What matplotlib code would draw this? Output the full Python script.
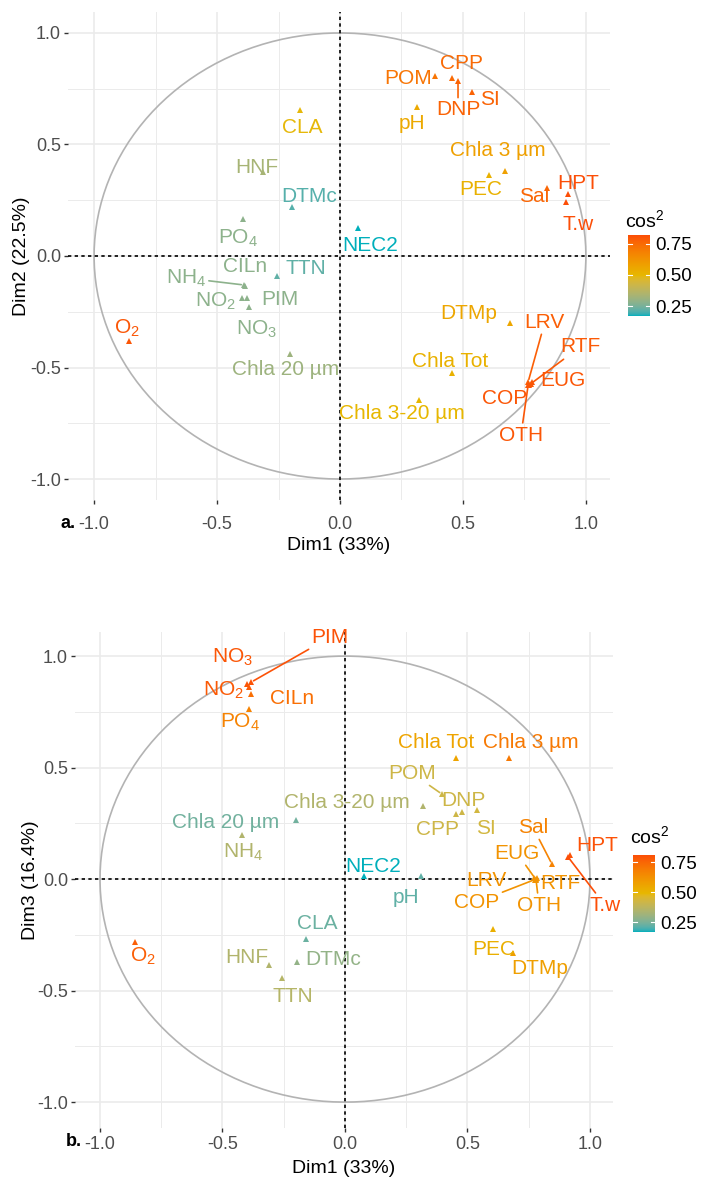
import numpy as np
import matplotlib
matplotlib.use('Agg')
import matplotlib.pyplot as plt
from matplotlib.colors import ListedColormap, Normalize

plt.rcParams['font.family'] = ['Liberation Sans', 'DejaVu Sans']
plt.rcParams['mathtext.fontset'] = 'custom'
plt.rcParams['mathtext.rm'] = 'Liberation Sans'
plt.rcParams['mathtext.default'] = 'regular'

# ---- panel a: Dim1 vs Dim2 ----
vars_a = ['CLA', 'HNF', 'DTMc', 'PO$_4$', 'NEC2', 'NH$_4$', 'CILn', 'TTN', 'NO$_2$',
          'NO$_3$', 'PIM', 'O$_2$', 'Chla 20 µm', 'Chla 3-20 µm', 'Chla Tot', 'DTMp',
          'LRV', 'RTF', 'EUG', 'COP', 'OTH', 'POM', 'CPP', 'DNP', 'SI', 'pH',
          'Chla 3 µm', 'PEC', 'Sal', 'HPT', 'T.w']
dim1_a = [-0.163, -0.313, -0.195, -0.394, 0.074, -0.390, -0.386, -0.256, -0.398,
          -0.378, -0.370, -0.858, -0.203, 0.321, 0.455, 0.691,
          0.765, 0.777, 0.780, 0.770, 0.765, 0.386, 0.455, 0.480, 0.537, 0.313,
          0.671, 0.606, 0.841, 0.927, 0.918]
dim2_a = [0.655, 0.377, 0.220, 0.166, 0.126, -0.130, -0.134, -0.090, -0.190,
          -0.190, -0.230, -0.381, -0.440, -0.646, -0.525, -0.300,
          -0.565, -0.572, -0.565, -0.580, -0.580, 0.807, 0.800, 0.785, 0.735, 0.668,
          0.381, 0.363, 0.305, 0.278, 0.242]
cos2_a = [0.49, 0.33, 0.21, 0.28, 0.17, 0.28, 0.28, 0.22, 0.28,
          0.28, 0.28, 0.80, 0.31, 0.50, 0.52, 0.56,
          0.78, 0.79, 0.80, 0.80, 0.80, 0.72, 0.75, 0.77, 0.77, 0.55,
          0.58, 0.52, 0.76, 0.82, 0.82]

# ---- panel b: Dim1 vs Dim3 ----
vars_b = ['PIM', 'NO$_3$', 'NO$_2$', 'CILn', 'PO$_4$', 'Chla Tot', 'Chla 3 µm', 'POM',
          'DNP', 'CPP', 'SI', 'Chla 3-20 µm', 'Chla 20 µm', 'NH$_4$', 'NEC2', 'pH',
          'Sal', 'HPT', 'T.w', 'EUG', 'LRV', 'RTF', 'COP', 'OTH', 'PEC', 'DTMp',
          'CLA', 'DTMc', 'HNF', 'TTN', 'O$_2$']
dim1_b = [-0.383, -0.400, -0.390, -0.384, -0.392, 0.453, 0.669, 0.396,
          0.478, 0.453, 0.539, 0.318, -0.200, -0.420, 0.078, 0.310,
          0.845, 0.918, 0.910, 0.778, 0.772, 0.784, 0.775, 0.780, 0.604, 0.686,
          -0.159, -0.196, -0.310, -0.257, -0.857]
dim3_b = [0.883, 0.875, 0.860, 0.828, 0.762, 0.543, 0.543, 0.381,
          0.300, 0.291, 0.309, 0.327, 0.265, 0.200, 0.013, 0.013,
          0.067, 0.108, 0.100, 0.000, 0.004, 0.004, -0.002, -0.004, -0.224, -0.332,
          -0.269, -0.372, -0.386, -0.444, -0.283]
cos2_b = [0.80, 0.79, 0.78, 0.73, 0.67, 0.56, 0.70, 0.42,
          0.42, 0.42, 0.43, 0.35, 0.24, 0.35, 0.17, 0.22,
          0.67, 0.80, 0.81, 0.62, 0.62, 0.62, 0.62, 0.62, 0.52, 0.58,
          0.23, 0.29, 0.35, 0.36, 0.77]

# label offsets (repel-like placement) and which labels get a segment
off_a = {'CLA': (0.009, -0.081), 'HNF': (-0.024, 0.018), 'DTMc': (0.069, 0.049),
         'PO$_4$': (-0.021, -0.085), 'NEC2': (0.048, -0.081), 'NH$_4$': (-0.236, 0.031),
         'CILn': (0.0, 0.085), 'TTN': (0.118, 0.036), 'NO$_2$': (-0.11, -0.012),
         'NO$_3$': (0.037, -0.137), 'PIM': (0.126, 0.033), 'O$_2$': (-0.008, 0.058),
         'Chla 20 µm': (-0.017, -0.071), 'Chla 3-20 µm': (-0.069, -0.058),
         'Chla Tot': (-0.008, 0.05), 'DTMp': (-0.167, 0.04), 'LRV': (0.068, 0.269),
         'RTF': (0.199, 0.164), 'EUG': (0.127, 0.005), 'COP': (-0.099, -0.057),
         'OTH': (-0.029, -0.223), 'POM': (-0.11, -0.013), 'CPP': (0.041, 0.061),
         'DNP': (0.0, -0.13), 'SI': (0.073, -0.035), 'pH': (-0.02, -0.076),
         'Chla 3 µm': (-0.029, 0.094), 'PEC': (-0.033, -0.067), 'Sal': (-0.052, -0.036),
         'HPT': (0.04, 0.045), 'T.w': (0.049, -0.099)}
seg_a = {'NH$_4$', 'LRV', 'RTF', 'OTH', 'DNP'}

off_b = {'PIM': (0.322, 0.202), 'NO$_3$': (-0.061, 0.121), 'NO$_2$': (-0.108, -0.012),
         'CILn': (0.168, -0.016), 'PO$_4$': (-0.037, -0.058), 'Chla Tot': (-0.082, 0.071),
         'Chla 3 µm': (0.09, 0.071), 'POM': (-0.123, 0.094), 'DNP': (0.004, 0.054),
         'CPP': (-0.077, -0.067), 'SI': (0.037, -0.08), 'Chla 3-20 µm': (-0.31, 0.018),
         'Chla 20 µm': (-0.286, -0.009), 'NH$_4$': (0.004, -0.079), 'NEC2': (0.036, 0.045),
         'pH': (-0.061, -0.094), 'Sal': (-0.078, 0.166), 'HPT': (0.111, 0.044),
         'T.w': (0.151, -0.217), 'EUG': (-0.076, 0.117), 'LRV': (-0.196, -0.008),
         'RTF': (0.094, -0.022), 'COP': (-0.236, -0.101), 'OTH': (0.012, -0.113),
         'PEC': (0.004, -0.09), 'DTMp': (0.11, -0.068), 'CLA': (0.045, 0.072),
         'DTMc': (0.147, 0.013), 'HNF': (-0.09, 0.036), 'TTN': (0.045, -0.081),
         'O$_2$': (0.033, -0.062)}
seg_b = {'PIM', 'POM', 'Sal', 'T.w', 'EUG', 'COP', 'OTH'}


# gradient interpolated in CIELAB like ggplot's gradientn
M_RGB2XYZ = np.array([[0.4124, 0.3576, 0.1805], [0.2126, 0.7152, 0.0722], [0.0193, 0.1192, 0.9505]])
WHITE = np.array([0.95047, 1.0, 1.08883])


def hex_to_lab(h):
    rgb = np.array([int(h[i:i + 2], 16) for i in (1, 3, 5)]) / 255.0
    lin = np.where(rgb <= 0.04045, rgb / 12.92, ((rgb + 0.055) / 1.055) ** 2.4)
    xyz = M_RGB2XYZ @ lin / WHITE
    f = np.where(xyz > 0.008856, np.cbrt(xyz), 7.787 * xyz + 16 / 116)
    return np.array([116 * f[1] - 16, 500 * (f[0] - f[1]), 200 * (f[1] - f[2])])


def lab_to_rgb(lab):
    fy = (lab[:, 0] + 16) / 116
    fx = fy + lab[:, 1] / 500
    fz = fy - lab[:, 2] / 200
    f = np.stack([fx, fy, fz], axis=1)
    xyz = np.where(f > 0.2069, f ** 3, (f - 16 / 116) / 7.787) * WHITE
    lin = np.clip(xyz @ np.linalg.inv(M_RGB2XYZ).T, 0, 1)
    rgb = np.where(lin <= 0.0031308, 12.92 * lin, 1.055 * lin ** (1 / 2.4) - 0.055)
    return np.clip(rgb, 0, 1)


stops = [hex_to_lab(c) for c in ['#00AFBB', '#E7B800', '#FC4E07']]
t = np.linspace(0, 1, 256)
labs = np.array([stops[0] + (stops[1] - stops[0]) * (u / 0.5) if u <= 0.5
                 else stops[1] + (stops[2] - stops[1]) * ((u - 0.5) / 0.5) for u in t])
cmap = ListedColormap(lab_to_rgb(labs))


def draw_panel(ax, names, xs, ys, c2, offs, segs, xlim, ylim, xlabel, ylabel,
               xpad, xlabpad, ylabpad):
    norm = Normalize(min(c2), max(c2))
    ax.set_xlim(*xlim)
    ax.set_ylim(*ylim)
    ax.set_xticks([-1, -0.5, 0, 0.5, 1])
    ax.set_yticks([-1, -0.5, 0, 0.5, 1])
    ax.set_xticklabels(['-1.0', '-0.5', '0.0', '0.5', '1.0'])
    ax.set_yticklabels(['-1.0', '-0.5', '0.0', '0.5', '1.0'])
    ax.set_xticks([-0.75, -0.25, 0.25, 0.75], minor=True)
    ax.set_yticks([-0.75, -0.25, 0.25, 0.75], minor=True)
    ax.set_axisbelow(True)
    ax.grid(which='major', color='#EBEBEB', lw=1.2)
    ax.grid(which='minor', color='#EBEBEB', lw=0.7)
    ax.tick_params(which='minor', length=0)
    ax.tick_params(which='major', length=3, width=1, color='#333333',
                   labelsize=13, labelcolor='#4D4D4D', pad=2)
    ax.tick_params(axis='x', which='major', pad=xpad)
    for s in ax.spines.values():
        s.set_visible(False)
    th = np.linspace(0, 2 * np.pi, 300)
    ax.plot(np.cos(th), np.sin(th), color='#B3B3B3', lw=1.2)
    ax.axhline(0, color='black', ls=(0, (2, 2)), lw=1.2)
    ax.axvline(0, color='black', ls=(0, (2, 2)), lw=1.2)
    for n, x, y, c in zip(names, xs, ys, c2):
        col = cmap(norm(c))
        ax.plot(x, y, '^', ms=5, color=col, mew=0)
        dx, dy = offs[n]
        if n in segs:
            ax.annotate(n, xy=(x, y), xytext=(x + dx, y + dy), ha='center', va='center',
                        color=col, fontsize=15,
                        arrowprops=dict(arrowstyle='-', color=col, lw=1.2, shrinkA=0, shrinkB=2))
        else:
            ax.text(x + dx, y + dy, n, ha='center', va='center', color=col, fontsize=15)
    ax.set_xlabel(xlabel, fontsize=14, labelpad=xlabpad)
    ax.set_ylabel(ylabel, fontsize=14, labelpad=ylabpad)
    return norm


def draw_cbar(fig, rect, norm, title_xy):
    cax = fig.add_axes(rect)
    vals = np.linspace(norm.vmin, norm.vmax, 200)[:, None]
    cax.imshow(vals, aspect='auto', cmap=cmap, origin='lower',
               extent=[0, 1, norm.vmin, norm.vmax], vmin=norm.vmin, vmax=norm.vmax)
    cax.set_xlim(0, 1)
    cax.set_ylim(norm.vmin, norm.vmax)
    for v in [0.25, 0.5, 0.75]:
        cax.plot([0, 0.2], [v, v], color='white', lw=0.8)
        cax.plot([0.8, 1], [v, v], color='white', lw=0.8)
    cax.set_xticks([])
    cax.yaxis.tick_right()
    cax.set_yticks([0.25, 0.5, 0.75])
    cax.set_yticklabels(['0.25', '0.50', '0.75'])
    cax.tick_params(length=0, labelsize=13.5, pad=4)
    for s in cax.spines.values():
        s.set_visible(False)
    fig.text(title_xy[0], title_xy[1], 'cos$^2$', fontsize=14, ha='left', va='center')


W, H = 708, 1181
fig = plt.figure(figsize=(W / 100, H / 100), dpi=100)

ax1 = fig.add_axes([68 / W, 1 - 500 / H, 542 / W, 488 / H])
norm_a = draw_panel(ax1, vars_a, dim1_a, dim2_a, cos2_a, off_a, seg_a,
                    (-1.106, 1.098), (-1.094, 1.094), 'Dim1 (33%)', 'Dim2 (22.5%)',
                    xpad=8.5, xlabpad=3, ylabpad=0)
draw_cbar(fig, [628 / W, 1 - 316 / H, 22 / W, 81 / H], norm_a, (625 / W, 1 - 220 / H))

ax2 = fig.add_axes([75 / W, 1 - 1128 / H, 538 / W, 496 / H])
norm_b = draw_panel(ax2, vars_b, dim1_b, dim3_b, cos2_b, off_b, seg_b,
                    (-1.102, 1.094), (-1.116, 1.108), 'Dim1 (33%)', 'Dim3 (16.4%)',
                    xpad=3, xlabpad=5, ylabpad=-1)
draw_cbar(fig, [633 / W, 1 - 932 / H, 22 / W, 77 / H], norm_b, (630 / W, 1 - 836 / H))

fig.text(68 / W, 1 - 523 / H, 'a.', fontsize=13, fontweight='bold', ha='center', va='center')
fig.text(74 / W, 1 - 1141 / H, 'b.', fontsize=13, fontweight='bold', ha='center', va='center')

fig.savefig('out.png', dpi=100, facecolor='white')
